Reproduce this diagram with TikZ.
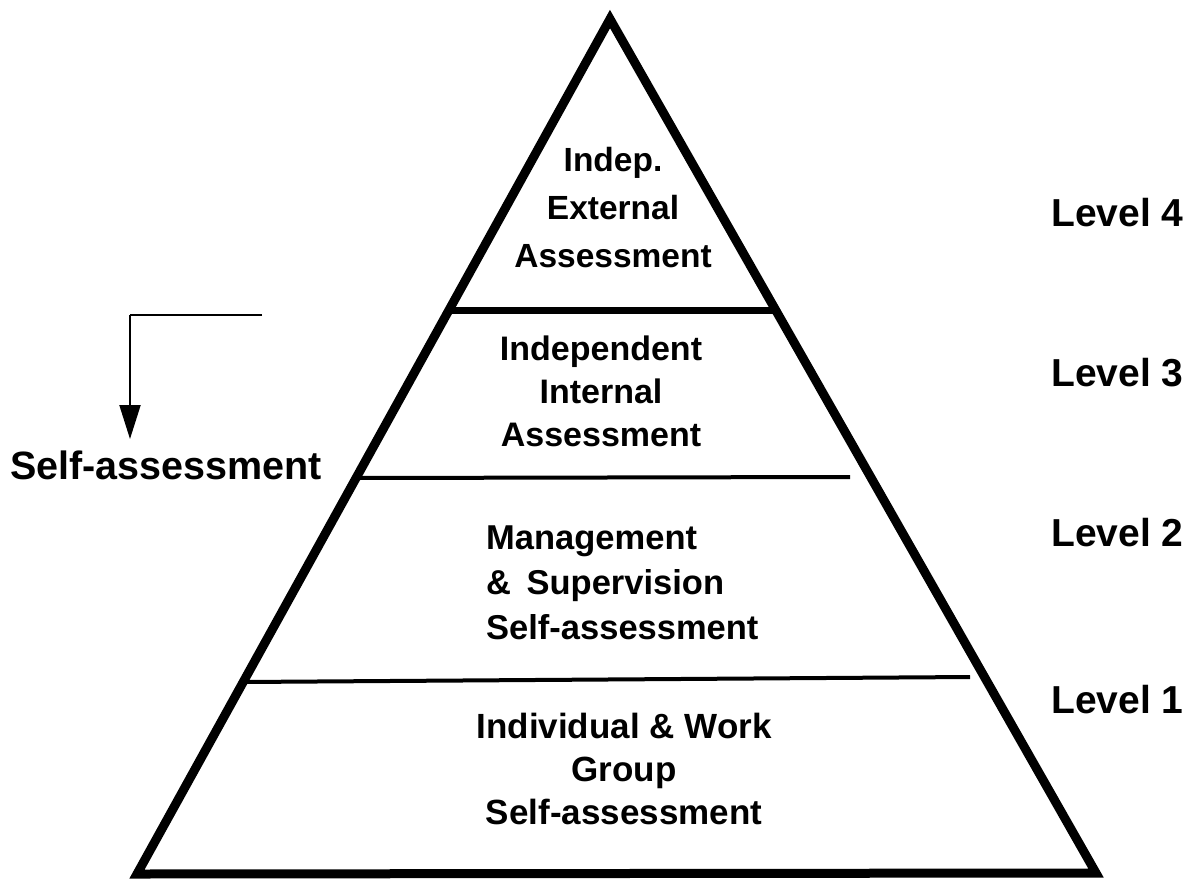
\documentclass[tikz,border=0pt]{standalone}
\usepackage{fontspec}
\setmainfont{Liberation Sans}
\usetikzlibrary{arrows.meta}
\begin{document}
\begin{tikzpicture}[x=1pt,y=-1pt,
  outline/.style={line width=9pt, line join=miter},
  divthick/.style={line width=7pt},
  divthin/.style={line width=4pt},
  pointer/.style={line width=2pt, -{Triangle[length=34pt,width=21pt]}},
  tiertext/.style={font=\fontsize{34}{43}\selectfont\bfseries, inner sep=0pt, anchor=north},
  levellabel/.style={font=\fontsize{39}{42}\selectfont\bfseries, inner sep=0pt, anchor=west},
  sidelabel/.style={font=\fontsize{39.5}{42}\selectfont\bfseries, inner sep=0pt, anchor=west}]
\useasboundingbox (0,0) rectangle (1202,884);
% pyramid outline
\coordinate (apex) at (610,19);
\coordinate (bl) at (137,874);
\coordinate (br) at (1096,873);
\draw[outline] (apex) -- (bl) -- (br) -- cycle;
% dividers
\coordinate (d4l) at (449,310);
\coordinate (d4r) at (776,310);
\draw[divthick] (d4l) -- (d4r);
\coordinate (d3l) at (356,478);
\coordinate (d3r) at (850,477);
\draw[divthin] (d3l) -- (d3r);
\coordinate (d2l) at (243,682);
\coordinate (d2r) at (970,677);
\draw[divthin] (d2l) -- (d2r);
% tier texts
\node[tiertext, align=center, font=\fontsize{33.5}{48}\selectfont\bfseries] (t4) at (613,147) {Indep.\\External\\Assessment};
\node[tiertext, align=center] (t3) at (601,336) {Independent\\Internal\\Assessment};
\node[tiertext, align=left, anchor=north west, font=\fontsize{34.5}{45}\selectfont\bfseries] (t2) at (486,526) {Management\\\&\hspace{0.45em}Supervision\\Self-assessment};
\node[tiertext, align=center, font=\fontsize{35}{43}\selectfont\bfseries] (t1) at (624,713) {Individual \& Work\\Group\\Self-assessment};
% level labels
\node[levellabel] (l4) at (1051,213) {Level 4};
\node[levellabel] (l3) at (1051,373) {Level 3};
\node[levellabel] (l2) at (1051,533) {Level 2};
\node[levellabel] (l1) at (1051,700) {Level 1};
% self-assessment pointer
\node[sidelabel] (sa) at (10,465) {Self-assessment};
\coordinate (arrstart) at (262,315);
\coordinate (arrcorner) at (130,315);
\coordinate (arrtip) at (130,439);
\draw[line width=2pt] (arrstart) -- (arrcorner);
\draw[pointer] (arrcorner) -- (arrtip);
\end{tikzpicture}
\end{document}
